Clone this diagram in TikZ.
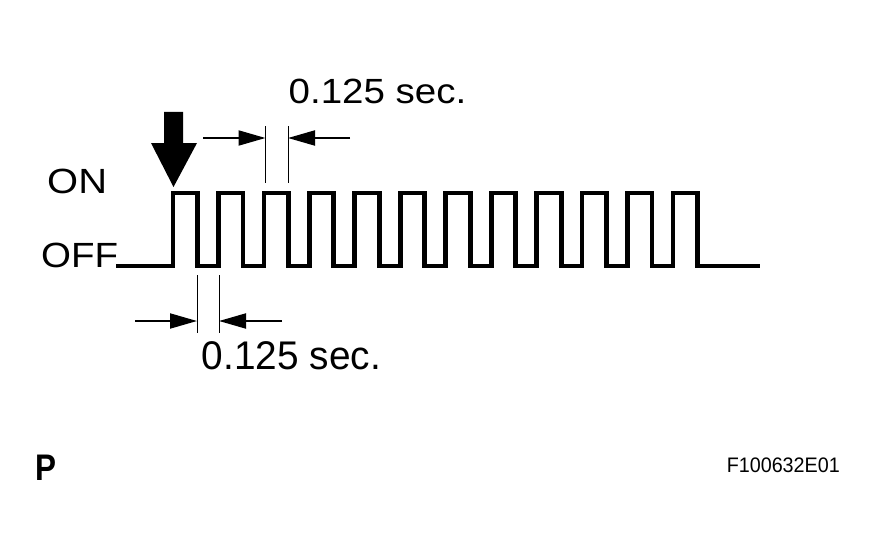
\documentclass[tikz,border=0pt]{standalone}
\usepackage{fontspec}
\setmainfont{Liberation Sans}
\usetikzlibrary{positioning,arrows.meta}

\begin{document}
\begin{tikzpicture}
[x=1pt,y=-1pt,
wave/.style={line width=4.8pt,line join=miter,line cap=rect},
ext/.style={line width=1pt},
dim/.style={line width=2pt,-{Triangle[length=27pt,width=15pt]}},
lbl/.style={inner sep=0pt,font=\fontsize{35}{40}\selectfont}]
\useasboundingbox (0,0) rectangle (877,559);
% signal
\draw[wave] (118,266) foreach \k in {0,...,11}{
  -- ({173+45.45*\k},266) -- ({173+45.45*\k},193)
  -- ({197.5+45.45*\k},193) -- ({197.5+45.45*\k},266)} -- (758,266);
% start arrow
\fill (164,112) -- (183,112) -- (183,143) -- (197,143) -- (173.5,187)
  -- (151,143) -- (164,143) -- cycle;
% top dimension
\coordinate (ta) at (265.5,126); \coordinate (tb) at (288,126);
\coordinate (ta') at (265.5,183); \coordinate (tb') at (288,183);
\coordinate (tl) at (203,138); \coordinate (tr) at (350,138);
\draw[ext] (ta) -- (ta'); \draw[ext] (tb) -- (tb');
\draw[dim] (tl) -- (tl -| ta);
\draw[dim] (tr) -- (tr -| tb);
% bottom dimension
\coordinate (ba) at (197,275); \coordinate (bb) at (219,275);
\coordinate (ba') at (197,333); \coordinate (bb') at (219,333);
\coordinate (bl) at (135,321); \coordinate (br) at (282,321);
\draw[ext] (ba) -- (ba'); \draw[ext] (bb) -- (bb');
\draw[dim] (bl) -- (bl -| ba);
\draw[dim] (br) -- (br -| bb);
% labels
\node[lbl,anchor=west,xscale=1.14](on) at (47,181){ON};
\node[lbl,anchor=west,xscale=1.1](off) at (41,255){OFF};
\node[lbl,xscale=1.1](toplbl) at (377.5,91){0.125 sec.};
\node[lbl,font=\fontsize{40}{44}\selectfont,xscale=0.97](botlbl) at (291.5,356){0.125 sec.};
\node[inner sep=0pt,anchor=west,font=\fontsize{37}{40}\selectfont\bfseries,xscale=0.85](p) at (35,468){P};
\node[inner sep=0pt,anchor=east,font=\fontsize{21}{24}\selectfont,xscale=0.94](fig) at (840,465){F100632E01};
\end{tikzpicture}
\end{document}
